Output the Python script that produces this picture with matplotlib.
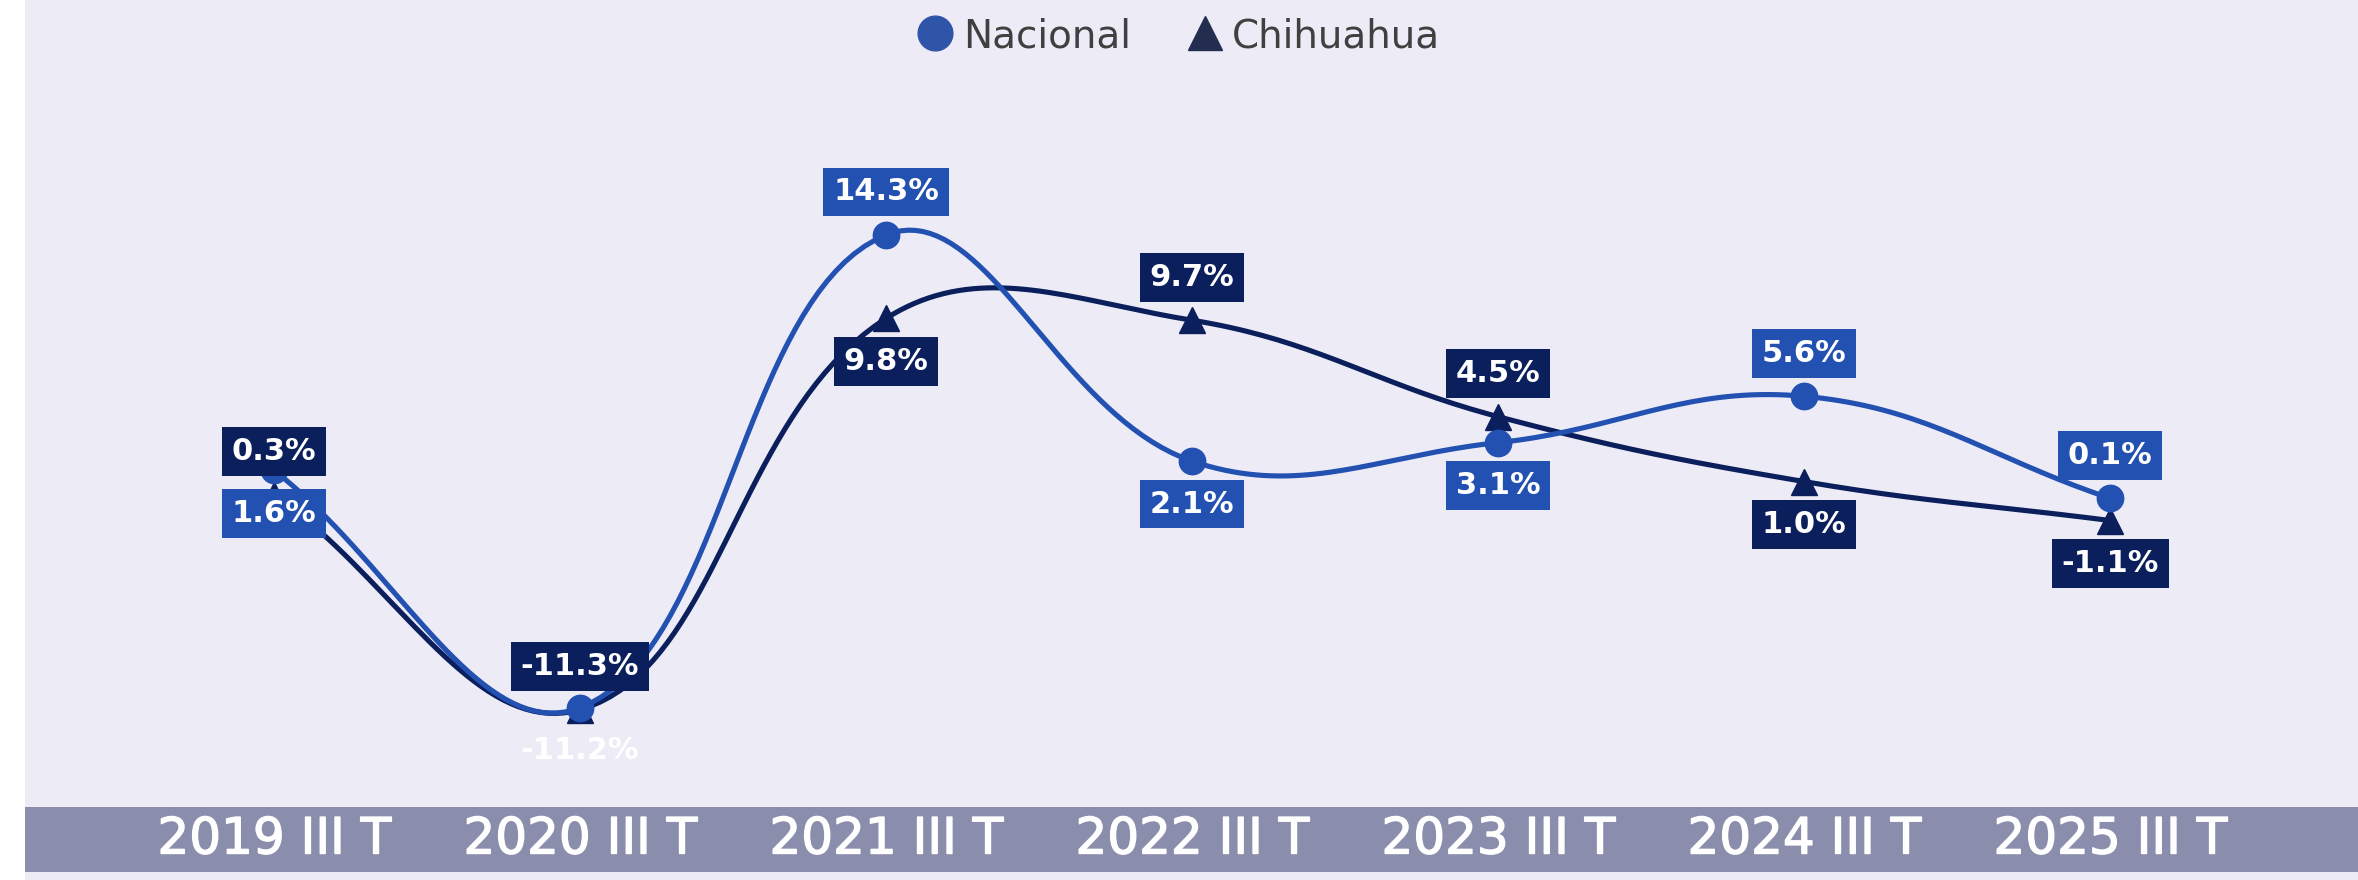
import numpy as np
import matplotlib
matplotlib.use('Agg')
import matplotlib.pyplot as plt
import matplotlib.patheffects as pe
from matplotlib.patches import Rectangle
from matplotlib.lines import Line2D
from matplotlib.transforms import blended_transform_factory

# ---- data ----
categories = ['2019 III T', '2020 III T', '2021 III T', '2022 III T',
              '2023 III T', '2024 III T', '2025 III T']
nacional = [1.6, -11.2, 14.3, 2.1, 3.1, 5.6, 0.1]
chihuahua = [0.3, -11.3, 9.8, 9.7, 4.5, 1.0, -1.1]
series_names = ['Nacional', 'Chihuahua']

# label placement (style)
nacional_pos = ['below', 'below', 'above', 'below', 'below', 'above', 'above']
chihuahua_pos = ['above', 'above', 'below', 'above', 'above', 'below', 'below']
nacional_box = [True, False, True, True, True, True, True]
chihuahua_box = [True] * 7

BG = '#EDEBF6'
BAND = '#8A8EAC'
C_NAC = '#2351B2'
C_CHI = '#0A1F5C'

W, H = 2358, 880
fig = plt.figure(figsize=(W / 100, H / 100), dpi=100, facecolor='white')
fig.patches.append(Rectangle((25 / W, 0), 1 - 25 / W, 1, transform=fig.transFigure,
                             facecolor=BG, edgecolor='none', zorder=-10))
fig.patches.append(Rectangle((25 / W, (H - 872) / H), 1 - 25 / W, 65 / H,
                             transform=fig.transFigure, facecolor=BAND,
                             edgecolor='none', zorder=-9))

ax = fig.add_axes([25 / W, (H - 807) / H, 1 - 25 / W, 807 / H])
ax.set_zorder(1)
ax.set_facecolor('none')
ax.axis('off')
ax.set_xlim(-0.814, 6.81)
ax.set_ylim(-16.55, 26.97)


def spline(xs, ys, tension=0.4, n=40):
    pts = ax.transData.transform(np.column_stack([xs, ys]))
    m = len(pts)
    cp_prev = np.zeros_like(pts)
    cp_next = np.zeros_like(pts)
    for i in range(m):
        cur = pts[i]
        prev = pts[i - 1] if i > 0 else cur
        nxt = pts[i + 1] if i < m - 1 else cur
        d01 = np.hypot(*(cur - prev))
        d12 = np.hypot(*(nxt - cur))
        tot = d01 + d12
        s01 = d01 / tot if tot else 0
        s12 = d12 / tot if tot else 0
        cp_prev[i] = cur - tension * s01 * (nxt - prev)
        cp_next[i] = cur + tension * s12 * (nxt - prev)
    out = []
    t = np.linspace(0, 1, n)[:, None]
    for i in range(m - 1):
        p0, p1, p2, p3 = pts[i], cp_next[i], cp_prev[i + 1], pts[i + 1]
        seg = ((1 - t) ** 3) * p0 + 3 * ((1 - t) ** 2) * t * p1 + 3 * (1 - t) * t ** 2 * p2 + t ** 3 * p3
        out.append(seg if i == 0 else seg[1:])
    out = np.vstack(out)
    return ax.transData.inverted().transform(out)


x = np.arange(len(categories))

for vals, col, mk, ms, z in [(chihuahua, C_CHI, '^', 19, 2), (nacional, C_NAC, 'o', 19, 3)]:
    cur = spline(x, vals)
    ax.plot(cur[:, 0], cur[:, 1], color=col, lw=3.7, zorder=z, solid_capstyle='round')
    ax.plot(x, vals, ls='none', marker=mk, ms=ms, color=col, zorder=z)

for vals, col, pos, box in [(nacional, C_NAC, nacional_pos, nacional_box),
                            (chihuahua, C_CHI, chihuahua_pos, chihuahua_box)]:
    for i, v in enumerate(vals):
        off = 43 if pos[i] == 'above' else -43
        bb = dict(boxstyle='square,pad=0.32', facecolor=col, edgecolor='none') if box[i] else None
        ax.annotate(f'{v:.1f}%', (i, v), xytext=(0, off), textcoords='offset pixels',
                    ha='center', va='center', color='white', fontsize=22,
                    fontweight='bold', bbox=bb, zorder=5)

tr = blended_transform_factory(ax.transData, ax.transAxes)
for i, c in enumerate(categories):
    ax.text(i, -32.5 / 807, c, transform=tr, ha='center', va='center',
            color='white', fontsize=36, clip_on=False,
            path_effects=[pe.withStroke(linewidth=1.0, foreground='white')])

handles = [Line2D([], [], ls='none', marker='o', ms=25, color='#2F55A8'),
           Line2D([], [], ls='none', marker='^', ms=25, color='#222D4F')]
fig.legend(handles, series_names, loc='center', bbox_to_anchor=(1178 / W, 1 - 36 / H),
           ncol=2, frameon=False, fontsize=28, handletextpad=0.2, columnspacing=1.4,
           handlelength=1.0, labelcolor='#404040')

fig.savefig('out.png', dpi=100, facecolor='white')
